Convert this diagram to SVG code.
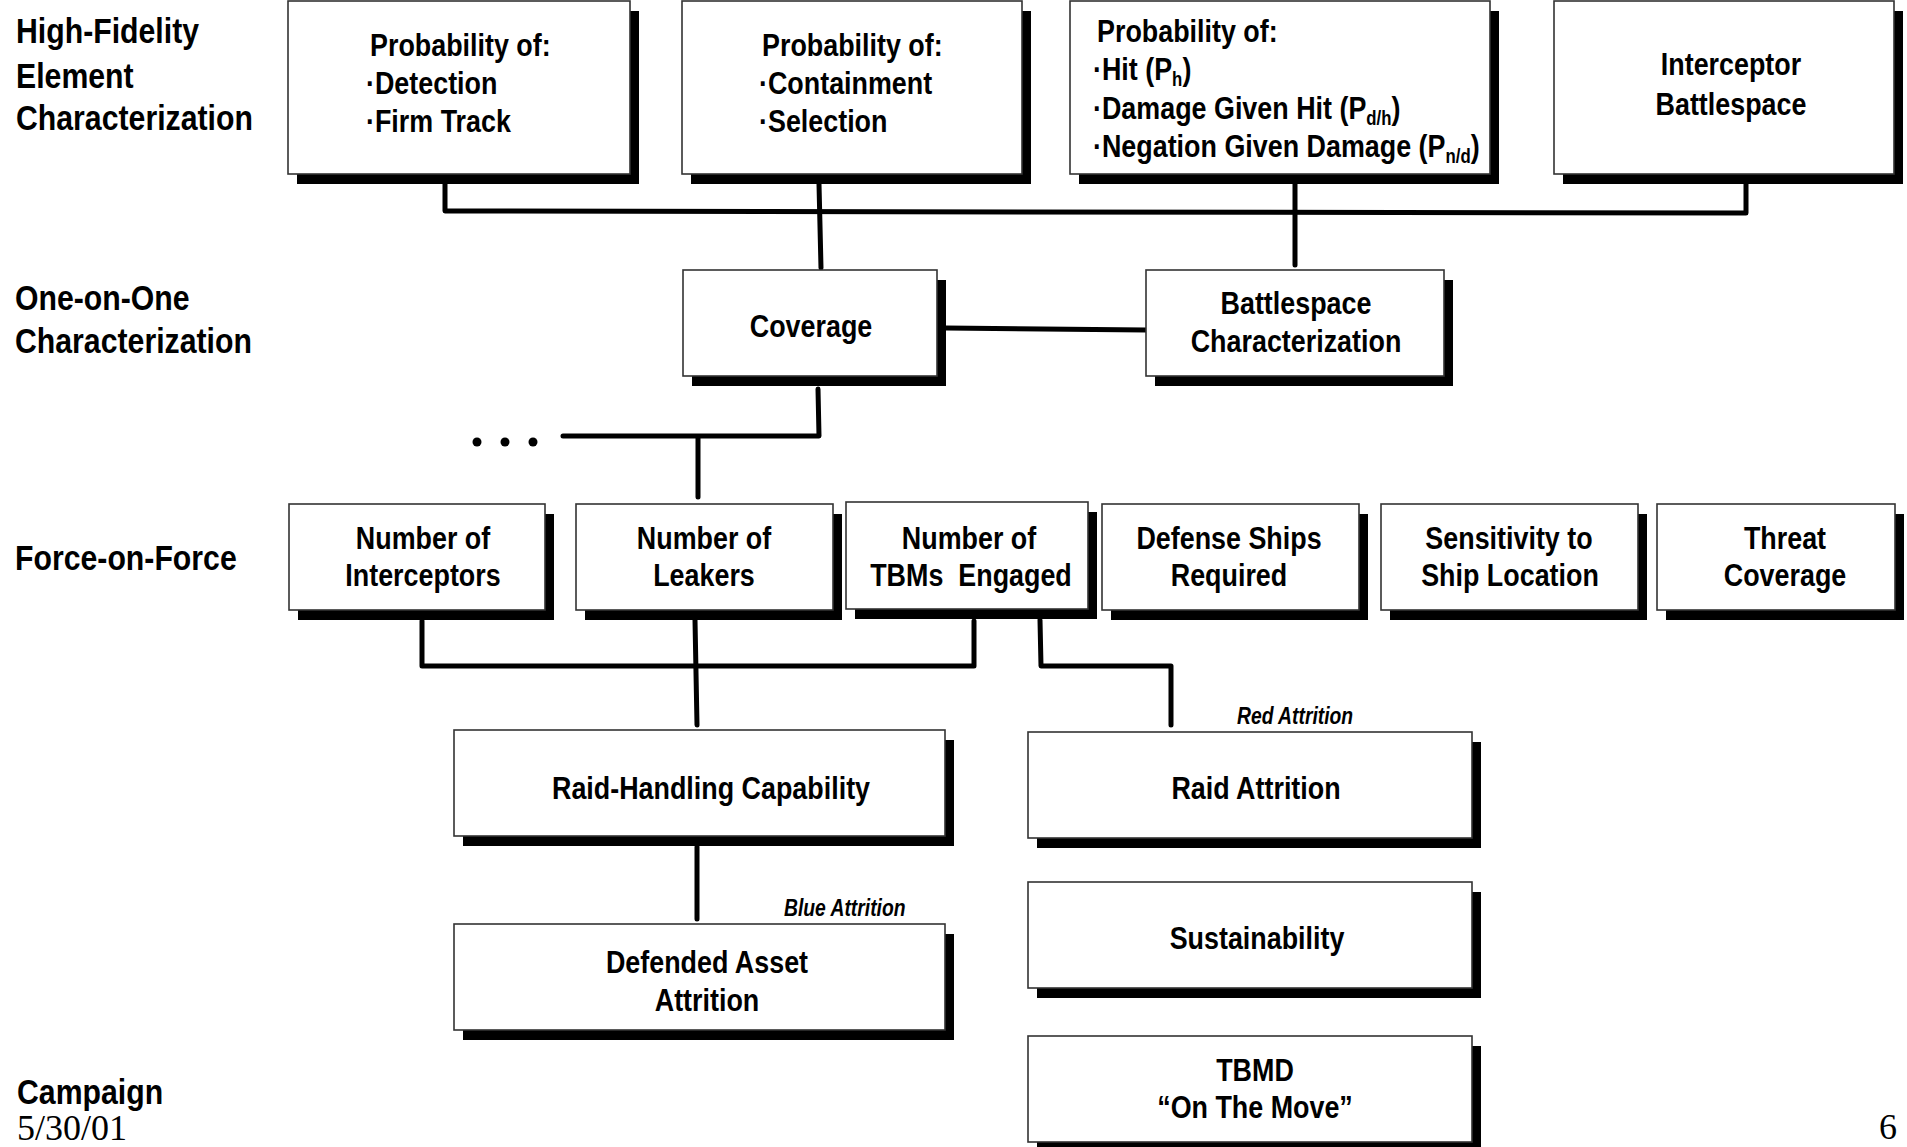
<svg xmlns="http://www.w3.org/2000/svg" width="1907" height="1147" viewBox="0 0 1907 1147">
  <style>
    .shadow { fill: #000; }
    .box { fill: #fff; stroke: #333; stroke-width: 1.6; }
    .t { font-family: "Liberation Sans", Arial, sans-serif; font-weight: bold; font-size: 32px; fill: #000; }
    .c { text-anchor: middle; }
    .lbl { font-size: 36px; }
    .note { font-size: 23px; font-style: italic; }
    .sub { font-size: 20px; }
    .serif { font-family: "Liberation Serif", "Times New Roman", serif; font-weight: normal; font-size: 36px; }
    .wire { fill: none; stroke: #000; stroke-width: 5; stroke-linecap: round; stroke-linejoin: round; }
  </style>

  <!-- level labels (condensed by a horizontal scale) -->
  <g id="level-labels">
    <text class="t lbl" transform="translate(16,43) scale(0.84,1)">High-Fidelity</text>
    <text class="t lbl" transform="translate(16,88) scale(0.84,1)">Element</text>
    <text class="t lbl" transform="translate(16,130) scale(0.84,1)">Characterization</text>
    <text class="t lbl" transform="translate(15,310) scale(0.84,1)">One-on-One</text>
    <text class="t lbl" transform="translate(15,353) scale(0.84,1)">Characterization</text>
    <text class="t lbl" transform="translate(15,570) scale(0.84,1)">Force-on-Force</text>
    <text class="t lbl" transform="translate(17,1104) scale(0.84,1)">Campaign</text>
  </g>
  <text id="date" class="serif" x="17" y="1140">5/30/01</text>
  <text id="page" class="serif" x="1879" y="1139">6</text>

  <!-- connectors -->
  <g id="connectors">
    <path class="wire" d="M445,184 L445,211 L1746,213 L1746,184"/>
    <path class="wire" d="M819,184 L821,268"/>
    <path class="wire" d="M1295,184 L1295,265"/>
    <path class="wire" d="M946,328 L1146,330"/>
    <path class="wire" d="M818,389 L819,436 L563,436"/>
    <path class="wire" d="M698,437 L698,497"/>
    <path class="wire" d="M422,621 L422,666 L974,666 L974,621"/>
    <path class="wire" d="M695,620 L697,725"/>
    <path class="wire" d="M697,847 L697,919"/>
    <path class="wire" d="M1040,620 L1041,666 L1171,666 L1171,725"/>
    <circle cx="477" cy="442" r="4.5" fill="#000"/>
    <circle cx="505" cy="442" r="4.5" fill="#000"/>
    <circle cx="533" cy="442" r="4.5" fill="#000"/>
    <text class="t note" transform="translate(784,916) scale(0.84,1)">Blue Attrition</text>
    <text class="t note" transform="translate(1237,724) scale(0.84,1)">Red Attrition</text>
  </g>

  <!-- high-fidelity element nodes -->
  <g id="detection">
    <rect class="shadow" x="297" y="11" width="342" height="173"/>
    <rect class="box" x="288" y="1" width="342" height="173"/>
    <text class="t" transform="translate(370,56) scale(0.84,1)">Probability of:</text>
    <text class="t" transform="translate(366,94) scale(0.84,1)">·Detection</text>
    <text class="t" transform="translate(366,132) scale(0.84,1)">·Firm Track</text>
  </g>
  <g id="containment">
    <rect class="shadow" x="691" y="11" width="340" height="173"/>
    <rect class="box" x="682" y="1" width="340" height="173"/>
    <text class="t" transform="translate(762,56) scale(0.84,1)">Probability of:</text>
    <text class="t" transform="translate(759,94) scale(0.84,1)">·Containment</text>
    <text class="t" transform="translate(759,132) scale(0.84,1)">·Selection</text>
  </g>
  <g id="hit-damage-negation">
    <rect class="shadow" x="1079" y="11" width="420" height="173"/>
    <rect class="box" x="1070" y="1" width="420" height="173"/>
    <text class="t" transform="translate(1097,42) scale(0.84,1)">Probability of:</text>
    <text class="t" transform="translate(1093,80) scale(0.84,1)">·Hit (P<tspan class="sub" dy="6">h</tspan><tspan dy="-6">)</tspan></text>
    <text class="t" transform="translate(1093,119) scale(0.84,1)">·Damage Given Hit (P<tspan class="sub" dy="6">d/h</tspan><tspan dy="-6">)</tspan></text>
    <text class="t" transform="translate(1093,157) scale(0.84,1)">·Negation Given Damage (P<tspan class="sub" dy="6">n/d</tspan><tspan dy="-6">)</tspan></text>
  </g>
  <g id="interceptor-battlespace">
    <rect class="shadow" x="1563" y="11" width="340" height="173"/>
    <rect class="box" x="1554" y="1" width="340" height="173"/>
    <text class="t c" transform="translate(1731,75) scale(0.84,1)">Interceptor</text>
    <text class="t c" transform="translate(1731,115) scale(0.84,1)">Battlespace</text>
  </g>

  <!-- one-on-one nodes -->
  <g id="coverage">
    <rect class="shadow" x="692" y="280" width="254" height="106"/>
    <rect class="box" x="683" y="270" width="254" height="106"/>
    <text class="t c" transform="translate(811,337) scale(0.84,1)">Coverage</text>
  </g>
  <g id="battlespace-characterization">
    <rect class="shadow" x="1155" y="280" width="298" height="106"/>
    <rect class="box" x="1146" y="270" width="298" height="106"/>
    <text class="t c" transform="translate(1296,314) scale(0.84,1)">Battlespace</text>
    <text class="t c" transform="translate(1296,352) scale(0.84,1)">Characterization</text>
  </g>

  <!-- force-on-force nodes -->
  <g id="number-of-interceptors">
    <rect class="shadow" x="298" y="514" width="256" height="106"/>
    <rect class="box" x="289" y="504" width="256" height="106"/>
    <text class="t c" transform="translate(423,549) scale(0.84,1)">Number of</text>
    <text class="t c" transform="translate(423,586) scale(0.84,1)">Interceptors</text>
  </g>
  <g id="number-of-leakers">
    <rect class="shadow" x="585" y="514" width="257" height="106"/>
    <rect class="box" x="576" y="504" width="257" height="106"/>
    <text class="t c" transform="translate(704,549) scale(0.84,1)">Number of</text>
    <text class="t c" transform="translate(704,586) scale(0.84,1)">Leakers</text>
  </g>
  <g id="number-of-tbms-engaged">
    <rect class="shadow" x="855" y="512" width="242" height="107"/>
    <rect class="box" x="846" y="502" width="242" height="107"/>
    <text class="t c" transform="translate(969,549) scale(0.84,1)">Number of</text>
    <text class="t c" transform="translate(971,586) scale(0.84,1)" xml:space="preserve">TBMs  Engaged</text>
  </g>
  <g id="defense-ships-required">
    <rect class="shadow" x="1111" y="514" width="257" height="106"/>
    <rect class="box" x="1102" y="504" width="257" height="106"/>
    <text class="t c" transform="translate(1229,549) scale(0.84,1)">Defense Ships</text>
    <text class="t c" transform="translate(1229,586) scale(0.84,1)">Required</text>
  </g>
  <g id="sensitivity-to-ship-location">
    <rect class="shadow" x="1390" y="514" width="257" height="106"/>
    <rect class="box" x="1381" y="504" width="257" height="106"/>
    <text class="t c" transform="translate(1509,549) scale(0.84,1)">Sensitivity to</text>
    <text class="t c" transform="translate(1510,586) scale(0.84,1)">Ship Location</text>
  </g>
  <g id="threat-coverage">
    <rect class="shadow" x="1666" y="514" width="238" height="106"/>
    <rect class="box" x="1657" y="504" width="238" height="106"/>
    <text class="t c" transform="translate(1785,549) scale(0.84,1)">Threat</text>
    <text class="t c" transform="translate(1785,586) scale(0.84,1)">Coverage</text>
  </g>

  <!-- campaign nodes -->
  <g id="raid-handling-capability">
    <rect class="shadow" x="463" y="740" width="491" height="106"/>
    <rect class="box" x="454" y="730" width="491" height="106"/>
    <text class="t c" transform="translate(711,799) scale(0.84,1)">Raid-Handling Capability</text>
  </g>
  <g id="defended-asset-attrition">
    <rect class="shadow" x="463" y="934" width="491" height="106"/>
    <rect class="box" x="454" y="924" width="491" height="106"/>
    <text class="t c" transform="translate(707,973) scale(0.84,1)">Defended Asset</text>
    <text class="t c" transform="translate(707,1011) scale(0.84,1)">Attrition</text>
  </g>
  <g id="raid-attrition">
    <rect class="shadow" x="1037" y="742" width="444" height="106"/>
    <rect class="box" x="1028" y="732" width="444" height="106"/>
    <text class="t c" transform="translate(1256,799) scale(0.84,1)">Raid Attrition</text>
  </g>
  <g id="sustainability">
    <rect class="shadow" x="1037" y="892" width="444" height="106"/>
    <rect class="box" x="1028" y="882" width="444" height="106"/>
    <text class="t c" transform="translate(1257,949) scale(0.84,1)">Sustainability</text>
  </g>
  <g id="tbmd-on-the-move">
    <rect class="shadow" x="1037" y="1046" width="444" height="106"/>
    <rect class="box" x="1028" y="1036" width="444" height="106"/>
    <text class="t c" transform="translate(1255,1081) scale(0.84,1)">TBMD</text>
    <text class="t c" transform="translate(1255,1118) scale(0.84,1)">“On The Move”</text>
  </g>
</svg>
